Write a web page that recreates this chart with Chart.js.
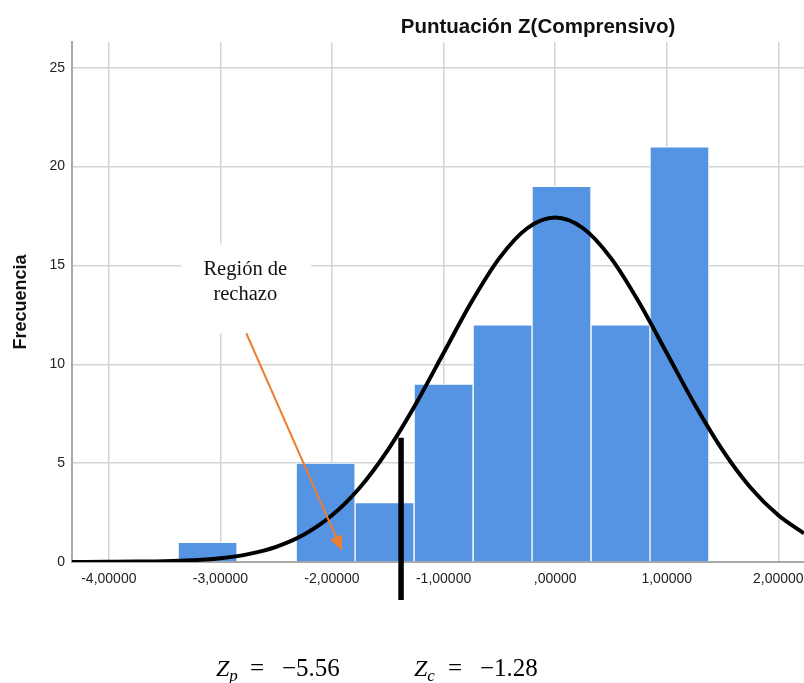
<!DOCTYPE html>
<html>
<head>
<meta charset="utf-8">
<script src="https://cdn.jsdelivr.net/npm/chart.js@4.4.0/dist/chart.umd.min.js"></script>
<style>
  html, body { margin: 0; padding: 0; background: #fff; overflow: hidden; }
  #wrap { width: 804px; height: 683px; }
</style>
</head>
<body>
<div id="wrap"><canvas id="histo" width="804" height="683"></canvas></div>
<script>
// histogram: bin centres and counts
const binCenters = [-3.115, -2.586, -2.057, -1.529, -1.000, -0.471, 0.057, 0.586, 1.114];
const binCounts = [1, 0, 5, 3, 9, 12, 19, 12, 21];

// normal curve
const curveX = [-4.33, -4, -3.75, -3.5, -3.25, -3, -2.75, -2.5, -2.25, -2, -1.75, -1.5, -1.25, -1,
  -0.75, -0.5, -0.25, 0, 0.25, 0.5, 0.75, 1, 1.25, 1.5, 1.75, 2, 2.23];
const curveY = [0.0, 0.01, 0.02, 0.04, 0.09, 0.19, 0.4, 0.77, 1.39, 2.36, 3.77, 5.66, 7.98, 10.57,
  13.15, 15.37, 16.88, 17.42, 16.88, 15.37, 13.15, 10.57, 7.98, 5.66, 3.77, 2.36, 1.45];

const xTicks = [-4, -3, -2, -1, 0, 1, 2];
const yTicks = [0, 5, 10, 15, 20, 25];

const fmtZ = (v) => {
  const a = Math.abs(v);
  return (v < 0 ? '-' : '') + (a === 0 ? '' : String(a)) + ',00000';
};

const annotations = {
  id: 'annotations',
  afterDatasetsDraw(chart) {
    const { ctx, scales: { x, y } } = chart;
    ctx.save();

    // white box behind the label
    const bx1 = x.getPixelForValue(-3.351), bx2 = x.getPixelForValue(-2.187);
    const by1 = y.getPixelForValue(16.11), by2 = y.getPixelForValue(11.57);
    ctx.fillStyle = '#fff';
    ctx.fillRect(bx1, by1, bx2 - bx1, by2 - by1);

    ctx.fillStyle = '#111';
    ctx.font = '20.5px "Liberation Serif", "Times New Roman", serif';
    ctx.textAlign = 'center';
    ctx.textBaseline = 'alphabetic';
    const tx = x.getPixelForValue(-2.777);
    ctx.fillText('Región de', tx, y.getPixelForValue(14.5));
    ctx.fillText('rechazo', tx, y.getPixelForValue(13.23));

    // orange arrow
    const sx = x.getPixelForValue(-2.768), sy = y.getPixelForValue(11.57);
    const ex = x.getPixelForValue(-1.91), ey = y.getPixelForValue(0.58);
    const ang = Math.atan2(ey - sy, ex - sx);
    const headLen = 15, headW = 6.5;
    const hx = ex - headLen * Math.cos(ang), hy = ey - headLen * Math.sin(ang);
    ctx.strokeStyle = '#ed7d31';
    ctx.fillStyle = '#ed7d31';
    ctx.lineWidth = 2;
    ctx.beginPath();
    ctx.moveTo(sx, sy);
    ctx.lineTo(hx, hy);
    ctx.stroke();
    ctx.beginPath();
    ctx.moveTo(ex, ey);
    ctx.lineTo(hx + headW * Math.sin(ang), hy - headW * Math.cos(ang));
    ctx.lineTo(hx - headW * Math.sin(ang), hy + headW * Math.cos(ang));
    ctx.closePath();
    ctx.fill();

    // black critical line
    const lx = x.getPixelForValue(-1.381);
    ctx.strokeStyle = '#000';
    ctx.lineWidth = 5.5;
    ctx.beginPath();
    ctx.moveTo(lx, y.getPixelForValue(6.28));
    ctx.lineTo(lx, y.getPixelForValue(-1.92));
    ctx.stroke();
    ctx.restore();
  },
  afterDraw(chart) {
    const { ctx } = chart;
    ctx.save();
    ctx.fillStyle = '#111';
    ctx.textBaseline = 'alphabetic';
    ctx.textAlign = 'center';
    ctx.font = 'bold 20.5px "Liberation Sans", Arial, sans-serif';
    ctx.fillText('Puntuación Z(Comprensivo)', 538, 33);

    // formula line
    ctx.fillStyle = '#000';
    ctx.textAlign = 'left';
    const drawZ = (x0, sub, val) => {
      ctx.font = 'italic 24px "Liberation Serif", "DejaVu Serif", serif';
      ctx.fillText('Z', x0, 676);
      const zw = ctx.measureText('Z').width;
      ctx.font = 'italic 17px "Liberation Serif", "DejaVu Serif", serif';
      ctx.fillText(sub, x0 + zw, 681);
      ctx.font = '25px "Liberation Serif", "DejaVu Serif", serif';
      ctx.fillText('=', x0 + 34, 676);
      ctx.fillText(val, x0 + 66, 676);
    };
    drawZ(216, 'p', '\u22125.56');
    drawZ(414, 'c', '\u22121.28');
    ctx.restore();
  }
};

new Chart(document.getElementById('histo'), {
  type: 'bar',
  data: {
    datasets: [
      {
        type: 'line',
        data: curveX.map((v, i) => ({ x: v, y: curveY[i] })),
        borderColor: '#000',
        borderWidth: 4,
        pointRadius: 0,
        cubicInterpolationMode: 'monotone',
        fill: false,
        order: 0
      },
      {
        type: 'bar',
        data: binCenters.map((v, i) => ({ x: v, y: binCounts[i] })),
        backgroundColor: '#5594e3',
        borderColor: '#fff',
        borderWidth: 1,
        barPercentage: 1,
        categoryPercentage: 1,
        order: 1
      }
    ]
  },
  options: {
    responsive: false,
    animation: false,
    layout: { padding: { top: 42, left: 0, right: 0, bottom: 0 } },
    plugins: {
      legend: { display: false },
      title: { display: false },
      tooltip: { enabled: false }
    },
    scales: {
      x: {
        type: 'linear',
        min: -4.33,
        max: 2.23,
        offset: false,
        afterBuildTicks: (s) => { s.ticks = xTicks.map((v) => ({ value: v })); },
        afterFit: (s) => { s.height = 121; s.paddingLeft = 0; s.paddingRight = 0; },
        grid: { color: '#d4d4d4', lineWidth: 1.5, drawTicks: false, offset: false },
        border: { color: '#a8a8a8', width: 2 },
        ticks: {
          padding: 9,
          color: '#222',
          font: { family: '"Liberation Sans", Arial, sans-serif', size: 14 },
          callback: (v) => fmtZ(v)
        }
      },
      y: {
        min: 0,
        max: 26.3,
        afterBuildTicks: (s) => { s.ticks = yTicks.map((v) => ({ value: v })); },
        afterFit: (s) => { s.width = 72; },
        grid: { color: '#d4d4d4', lineWidth: 1.5, drawTicks: false },
        border: { color: '#a8a8a8', width: 2 },
        ticks: {
          padding: 7,
          color: '#222',
          font: { family: '"Liberation Sans", Arial, sans-serif', size: 14 }
        },
        title: {
          display: true,
          text: 'Frecuencia',
          color: '#111',
          padding: { top: 10, bottom: 0 },
          font: { family: '"Liberation Sans", Arial, sans-serif', size: 18, weight: 'bold' }
        }
      }
    }
  },
  plugins: [annotations]
});
</script>
</body>
</html>
